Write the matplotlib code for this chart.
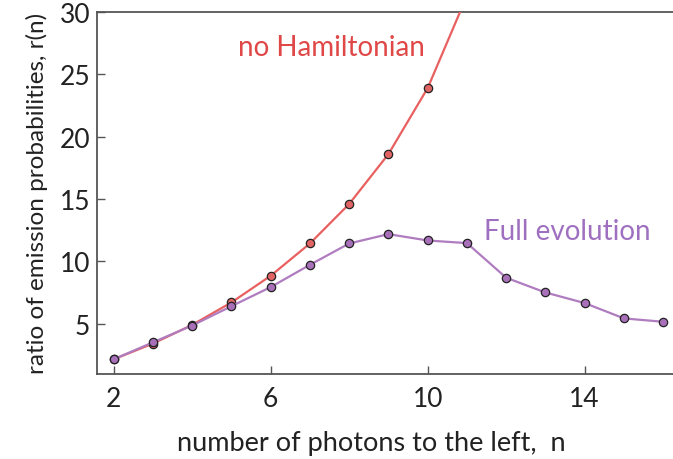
import numpy as np
import matplotlib.pyplot as plt

plt.rcParams['font.family'] = ['Lato', 'DejaVu Sans']

# no Hamiltonian (markers on n = 2..10, line runs off the top)
n_noham = [2, 3, 4, 5, 6, 7, 8, 9, 10, 11]
r_noham = [2.14, 3.4, 4.9, 6.7, 8.84, 11.43, 14.6, 18.6, 23.9, 31.3]

# full evolution
n_full = [2, 3, 4, 5, 6, 7, 8, 9, 10, 11, 12, 13, 14, 15, 16]
r_full = [2.14, 3.5, 4.85, 6.4, 7.93, 9.72, 11.43, 12.18, 11.67, 11.46,
          8.68, 7.5, 6.65, 5.42, 5.15]

xticks = [2, 6, 10, 14]
yticks = [5, 10, 15, 20, 25, 30]

red = '#e8605f'
purple = '#b07cc0'

fig = plt.figure(figsize=(6.73, 4.6), dpi=100)
ax = fig.add_axes([97 / 673, 1 - 374.5 / 460, 1 - 97 / 673, (374.5 - 13) / 460])

ax.plot(n_noham, r_noham, color=red, lw=1.6, marker='o', ms=6,
        mfc='#e06464', mec='#222222', mew=0.9, markevery=list(range(9)), zorder=3)
ax.plot(n_full, r_full, color=purple, lw=1.6, marker='o', ms=6,
        mfc='#a870b8', mec='#222222', mew=0.9, zorder=4)

ax.set_xlim(1.575, 16.25)
ax.set_ylim(1, 30)
ax.set_xticks(xticks)
ax.set_yticks(yticks)

for s in ['left', 'bottom', 'top']:
    ax.spines[s].set_color('#555555')
    ax.spines[s].set_linewidth(1.3)
ax.spines['right'].set_visible(False)
ax.tick_params(direction='in', length=6, width=1, color='#555555',
               labelsize=19, labelcolor='#222222')
ax.tick_params(axis='x', pad=9)
ax.tick_params(axis='y', pad=5)

ax.set_xlabel('number of photons to the left,  n', fontsize=19.5, color='#222222')
ax.set_ylabel('ratio of emission probabilities, r(n)', fontsize=17.5, color='#222222', labelpad=8)
ax.xaxis.set_label_coords(0.477, -0.155)

ax.text(7.54, 27.2, 'no Hamiltonian', color='#e04848', fontsize=20, va='center', ha='center')
ax.text(13.55, 12.4, 'Full evolution', color='#a070c0', fontsize=20, va='center', ha='center')

fig.savefig('out.png', dpi=100)
